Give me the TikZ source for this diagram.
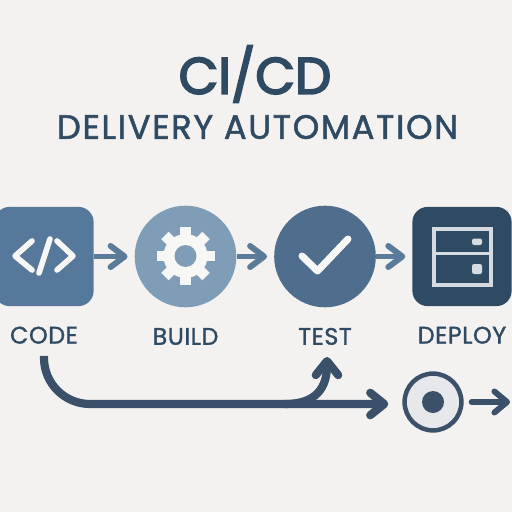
\documentclass[tikz,border=0pt]{standalone}
\usepackage{fontspec}
\setmainfont{Poppins}
\newfontfamily\titlefont[FakeBold=3.5]{Poppins}
\newfontfamily\subtitlefont[FakeBold=1.5,LetterSpace=5]{Poppins}
\newfontfamily\labelfont[FakeBold=1.2,LetterSpace=2]{Poppins}
\usetikzlibrary{arrows.meta,positioning}
\definecolor{PageGrey}{HTML}{F3F2F0}
\definecolor{InkBlue}{HTML}{2F4A63}
\definecolor{FlowBlue}{HTML}{5A7B9A}
\definecolor{CodeBlue}{HTML}{56789A}
\definecolor{BuildBlue}{HTML}{7F9DB6}
\definecolor{TestBlue}{HTML}{4F6E8E}
\definecolor{LoopBlue}{HTML}{3A5169}
\definecolor{IconWhite}{HTML}{F7F7F6}
\definecolor{RackGrey}{HTML}{D5DBE0}
\definecolor{TargetGrey}{HTML}{E6E8EC}
\tikzset{
  stepbox/.style={rectangle,rounded corners=0.38cm,minimum size=2.48cm,inner sep=0pt},
  stepdisc/.style={circle,minimum size=2.54cm,inner sep=0pt},
  steplabel/.style={text=InkBlue,font=\labelfont\fontsize{17}{17}\selectfont,inner sep=0pt,text height=12pt,text depth=0pt},
  flow/.style={FlowBlue,line width=4.2pt,shorten >=0.17cm,-{Straight Barb[round,length=10pt,width=15pt]}},
  loopline/.style={LoopBlue,line width=5.8pt,-{Straight Barb[round,length=10pt,width=16pt]}},
  icon/.style={IconWhite,line width=4pt,line cap=round,line join=round}
}
\begin{document}
\begin{tikzpicture}[x=0.025cm,y=-0.025cm,>=Stealth]
\clip (0,0) rectangle (512,512);
\fill[PageGrey] (0,0) rectangle (512,512);
% headings
\node[text=InkBlue,inner sep=0pt] (title) at (255,74) {\titlefont\fontsize{36.5}{37}\selectfont CI/CD};
\node[text=InkBlue,inner sep=0pt] (subtitle) at (257.5,127) {\subtitlefont\fontsize{24}{24}\selectfont DELIVERY AUTOMATION};
% pipeline
\node[stepbox,fill=CodeBlue] (code) at (44,256.5) {};
\node[stepdisc,fill=BuildBlue] (build) at (185.5,256.5) {};
\node[stepdisc,fill=TestBlue] (test) at (325,256.5) {};
\node[stepbox,fill=InkBlue] (deploy) at (462,256.5) {};
\node[steplabel,below=0.5cm of code] (codelabel) {CODE};
\node[steplabel,below=0.5cm of build] (buildlabel) {BUILD};
\node[steplabel,below=0.5cm of test] (testlabel) {TEST};
\node[steplabel,below=0.5cm of deploy] (deploylabel) {DEPLOY};
\draw[flow] (code) -- (build);
\draw[flow] (build) -- (test);
\draw[flow] (test) -- (deploy);
% code icon
\draw[icon] (32,241) -- (15,256) -- (32,270);
\draw[icon] (50,239) -- (39,273);
\draw[icon] (57,241) -- (73,256) -- (57,270);
% gear icon
\foreach \a in {0,45,...,315}
  \draw[IconWhite,line width=7.5pt] (185.5,256)++(\a:19) -- ++(\a:10);
\fill[IconWhite] (185.5,256) circle (22);
\fill[BuildBlue] (185.5,256) circle (11);
% check icon
\draw[icon,line width=5pt] (302,256) -- (317.5,271) -- (348,239);
% rack icon
\draw[RackGrey,line width=2.4pt] (434,229) rectangle (491,285) (434,253.5) -- (491,253.5);
\fill[RackGrey,rounded corners=1.5pt] (472,238.5) rectangle (482,245);
\fill[RackGrey,rounded corners=1.5pt] (472,264) rectangle (482,274);
% lower lines
\node[circle,draw=LoopBlue,fill=TargetGrey,line width=3.2pt,minimum size=1.42cm,inner sep=0pt] (target) at (433,402) {};
\node[circle,fill=LoopBlue,minimum size=0.55cm,inner sep=0pt] (targetdot) at (433,402) {};
\coordinate[below=0.3cm of codelabel] (loopstart);
\coordinate (branch) at (285,404);
\coordinate (testend) at (327,357);
\coordinate (outend) at (510,402);
\draw[loopline,rounded corners=1.15cm,shorten >=0.35cm] (loopstart) |- (target.west |- branch);
\draw[loopline] (branch) .. controls (316,404) and (327,388) .. (testend);
\draw[LoopBlue,line width=4.2pt,line cap=round,shorten <=0.2cm,-{Straight Barb[round,length=9pt,width=15pt]}] (target) -- (outend);
\end{tikzpicture}
\end{document}
